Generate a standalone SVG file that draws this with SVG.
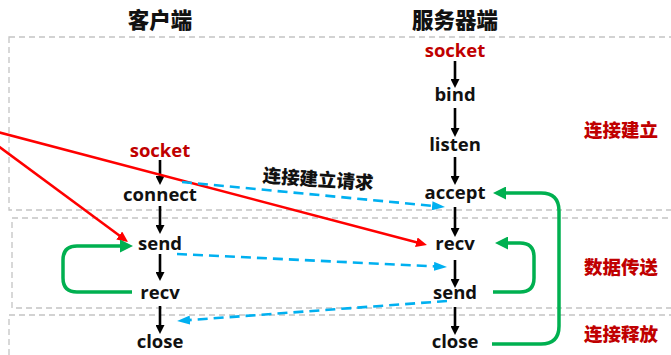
<svg xmlns="http://www.w3.org/2000/svg" width="671" height="355" viewBox="0 0 671 355">
<style>
.bg{fill:#ffffff}
.box{fill:none;stroke:#c4c4c4;stroke-width:1.3;stroke-dasharray:6 4}
.title{font-family:"Noto Sans CJK SC","Noto Sans",sans-serif;font-weight:900;font-size:21.5px;fill:#111;text-anchor:middle}
.fn{font-family:"Open Sans","Liberation Sans",sans-serif;font-weight:bold;font-size:18.5px;fill:#111;text-anchor:middle}
.red{fill:#c00000}
.phase{font-family:"Noto Sans CJK SC","Noto Sans",sans-serif;font-weight:900;font-size:18.5px;fill:#c00000;text-anchor:start}
.lbl{font-family:"Noto Sans CJK SC","Noto Sans",sans-serif;font-weight:900;font-size:18.5px;fill:#111;text-anchor:middle}
.blk{stroke:#000;stroke-width:2.6;fill:none}
.rl{stroke:#ff0000;stroke-width:2.5;fill:none}
.bl{stroke:#00b0f0;stroke-width:2.6;fill:none;stroke-dasharray:10 6}
.gl{stroke:#00b050;stroke-width:3.5;fill:none}
</style>
<defs>
<marker id="aBlack" viewBox="0 0 9 9" markerWidth="9" markerHeight="9" markerUnits="userSpaceOnUse" refX="1" refY="4.5" orient="auto"><path d="M0,0 L9,4.5 L0,9 z" fill="#000"/></marker>
<marker id="aRed" viewBox="0 0 11 10" markerWidth="11" markerHeight="10" markerUnits="userSpaceOnUse" refX="1" refY="5" orient="auto"><path d="M0,0 L11,5 L0,10 z" fill="#ff0000"/></marker>
<marker id="aBlue" viewBox="0 0 13 9" markerWidth="13" markerHeight="9" markerUnits="userSpaceOnUse" refX="1" refY="4.5" orient="auto"><path d="M0,0 L13,4.5 L0,9 z" fill="#00b0f0"/></marker>
<marker id="aGreen" viewBox="0 0 13 13" markerWidth="13" markerHeight="13" markerUnits="userSpaceOnUse" refX="1" refY="6.5" orient="auto"><path d="M0,0 L13,6.5 L0,13 z" fill="#00b050"/></marker>
</defs>
<rect class="bg" x="0" y="0" width="671" height="355"/>
<g id="phases">
<rect class="box" x="9" y="37" width="720" height="173"/>
<rect class="box" x="12" y="218" width="720" height="90"/>
<rect class="box" x="9" y="315" width="720" height="80"/>
</g>
<g id="titles">
<text class="title" x="160" y="28">客户端</text>
<text class="title" x="455" y="28">服务器端</text>
</g>
<g id="phase-labels">
<text class="phase" x="584" y="137">连接建立</text>
<text class="phase" x="584" y="274">数据传送</text>
<text class="phase" x="584" y="341">连接释放</text>
</g>
<g id="c-socket"><text class="fn red" x="160" y="157">socket</text></g>
<g id="c-connect"><text class="fn" x="160" y="201">connect</text></g>
<g id="c-send"><text class="fn" x="160" y="250">send</text></g>
<g id="c-recv"><text class="fn" x="160" y="299">recv</text></g>
<g id="c-close"><text class="fn" x="160" y="348">close</text></g>
<g id="s-socket"><text class="fn red" x="455" y="57">socket</text></g>
<g id="s-bind"><text class="fn" x="455" y="101">bind</text></g>
<g id="s-listen"><text class="fn" x="455" y="151">listen</text></g>
<g id="s-accept"><text class="fn" x="455" y="199">accept</text></g>
<g id="s-recv"><text class="fn" x="455" y="250">recv</text></g>
<g id="s-send"><text class="fn" x="455" y="299">send</text></g>
<g id="s-close"><text class="fn" x="455" y="348">close</text></g>
<g id="connectors">
<line class="blk" x1="160" y1="160" x2="160" y2="177" marker-end="url(#aBlack)"/>
<line class="blk" x1="160" y1="206" x2="160" y2="226" marker-end="url(#aBlack)"/>
<line class="blk" x1="160" y1="254" x2="160" y2="273" marker-end="url(#aBlack)"/>
<line class="blk" x1="160" y1="306" x2="160" y2="326" marker-end="url(#aBlack)"/>
<line class="blk" x1="455" y1="61" x2="455" y2="80" marker-end="url(#aBlack)"/>
<line class="blk" x1="455" y1="108" x2="455" y2="129" marker-end="url(#aBlack)"/>
<line class="blk" x1="455" y1="157" x2="455" y2="177" marker-end="url(#aBlack)"/>
<line class="blk" x1="455" y1="207" x2="455" y2="229" marker-end="url(#aBlack)"/>
<line class="blk" x1="455" y1="260" x2="455" y2="280" marker-end="url(#aBlack)"/>
<line class="blk" x1="455" y1="307" x2="455" y2="327" marker-end="url(#aBlack)"/>
<line class="rl" x1="-10" y1="130" x2="417.3" y2="242.5" marker-end="url(#aRed)"/>
<line class="rl" x1="-10" y1="140" x2="120" y2="236.1" marker-end="url(#aRed)"/>
<line class="bl" x1="182" y1="182" x2="433.1" y2="205.9" marker-end="url(#aBlue)"/>
<line class="bl" x1="177" y1="254" x2="435" y2="266.4" marker-end="url(#aBlue)"/>
<line class="bl" x1="447" y1="301" x2="189" y2="320.1" marker-end="url(#aBlue)"/>
<path class="gl" d="M132,292 H77 Q63,292 63,278 V260 Q63,246 77,246 H121" marker-end="url(#aGreen)"/>
<path class="gl" d="M493,292 H520 Q534,292 534,278 V257 Q534,243 520,243 H507" marker-end="url(#aGreen)"/>
<path class="gl" d="M492,344 H541 Q559,344 559,326 V211 Q559,193 541,193 H505" marker-end="url(#aGreen)"/>
<text class="lbl" x="318" y="186" transform="rotate(4 318 180)">连接建立请求</text>
</g>
</svg>
